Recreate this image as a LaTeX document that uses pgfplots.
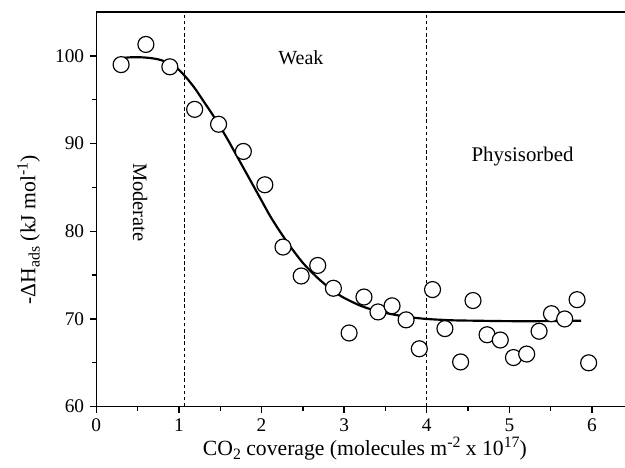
\documentclass[border=0pt]{standalone}
\usepackage{pgfplots}
\pgfplotsset{compat=1.18}
\usepackage{fontspec}
\setmainfont{Liberation Serif}
\newcommand{\sups}[1]{\raisebox{4.6pt}{\fontsize{9.5}{11}\selectfont #1}}
\newcommand{\subs}[1]{\raisebox{-2.6pt}{\fontsize{9.5}{11}\selectfont #1}}
\begin{document}
\begin{tikzpicture}
\useasboundingbox (-57.8pt,-36.8pt) rectangle (317.2pt,244pt);
\begin{axis}[
  scale only axis,
  width=317.2pt, height=236.8pt,
  xmin=0, xmax=6.4, ymin=60, ymax=105,
  axis lines=left,
  axis line style={-, line width=0.8pt},
  xtick={0,1,2,3,4,5,6},
  ytick={60,70,80,90,100},
  minor x tick num=1,
  minor y tick num=1,
  tick align=outside,
  major tick length=3.8pt,
  minor tick length=2.6pt,
  every tick/.style={black, line width=0.8pt},
  /pgf/number format/assume math mode=true,
  tick label style={font=\fontsize{11.6}{13}\selectfont},
  xticklabel style={yshift=0pt},
  xlabel={CO\subs{2} coverage (molecules m\sups{-2} x 10\sups{17})},
  ylabel={-ΔH\subs{ads} (kJ mol\sups{-1})},
  every axis x label/.style={at={(axis description cs:0.508,-0.1225)}, anchor=base, font=\fontsize{13}{15}\selectfont},
  every axis y label/.style={at={(axis description cs:-0.0955,0.448)}, rotate=90, anchor=south, font=\fontsize{13}{15}\selectfont},
  clip=false,
]
\draw[line width=0.8pt] (rel axis cs:0,1) -- (rel axis cs:1,1);
\addplot[black, line width=0.7pt, dash pattern=on 2.1pt off 1.6pt] coordinates {(1.07,60) (1.07,105)};
\addplot[black, line width=0.7pt, dash pattern=on 2.1pt off 1.6pt] coordinates {(4.0,60) (4.0,105)};
\addplot[black, line width=1.3pt, smooth, tension=0.5] coordinates {
(0.30,99.75) (0.45,99.85) (0.6,99.8) (0.75,99.6) (0.9,99.1) (1.0,98.4) (1.1,97.4) (1.2,96.2) (1.3,94.8) (1.4,93.4) (1.5,91.9) (1.6,90.3) (1.7,88.6) (1.8,86.9) (1.9,85.2) (2.0,83.5) (2.1,81.8) (2.2,80.3) (2.3,78.9) (2.4,77.6) (2.5,76.4) (2.6,75.4) (2.7,74.5) (2.8,73.7) (2.9,73.0) (3.0,72.4) (3.2,71.5) (3.4,70.9) (3.6,70.5) (3.8,70.2) (4.0,70.0) (4.3,69.85) (4.6,69.8) (5.0,69.75) (5.4,69.75) (5.87,69.8)
};
\addplot[only marks, mark=*, mark size=4.8pt, mark options={draw=black, fill=white, line width=0.7pt}] coordinates {
(0.30,99.0) (0.60,101.3) (0.89,98.75) (1.19,93.9) (1.48,92.2) (1.78,89.1) (2.04,85.3)
(2.26,78.2) (2.48,74.9) (2.68,76.1) (2.87,73.5) (3.06,68.4) (3.24,72.5) (3.41,70.8)
(3.58,71.5) (3.75,69.9) (3.91,66.6) (4.07,73.35) (4.22,68.9) (4.41,65.1) (4.56,72.1)
(4.73,68.2) (4.89,67.6) (5.05,65.6) (5.21,66.0) (5.36,68.6) (5.51,70.6) (5.67,70.0)
(5.82,72.2) (5.96,65.0)
};
\node[anchor=base, font=\fontsize{12}{14}\selectfont] at (axis cs:2.476,99.05) {Weak};
\node[anchor=base, font=\fontsize{12.5}{14}\selectfont] at (axis cs:5.16,87.9) {Physisorbed};
\node[rotate=-90, font=\fontsize{12.3}{14}\selectfont] at (axis cs:0.53,83.3) {Moderate};
\end{axis}
\end{tikzpicture}
\end{document}
